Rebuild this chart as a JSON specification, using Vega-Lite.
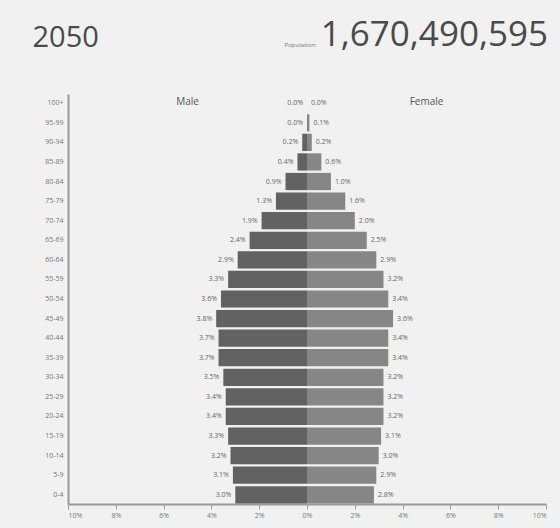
{
  "$schema": "https://vega.github.io/schema/vega-lite/v6.json",
  "autosize": {"type": "none"},
  "width": 478,
  "height": 410,
  "padding": {"left": 68, "top": 94, "right": 14, "bottom": 24},
  "background": "#f1f1f1",
  "title": {
    "text": "1,670,490,595",
    "anchor": "end",
    "frame": "group",
    "fontSize": 35,
    "fontWeight": "normal",
    "font": "Open Sans",
    "color": "#4a4a4a",
    "baseline": "alphabetic",
    "offset": 0,
    "dy": 58,
    "dx": 2
  },
  "config": {
    "view": {"stroke": null},
    "font": "Open Sans"
  },
  "datasets": {
    "pop": [
      {"age": "100+", "sex": "Male", "pct": 0.0}, {"age": "100+", "sex": "Female", "pct": 0.0},
      {"age": "95-99", "sex": "Male", "pct": 0.0}, {"age": "95-99", "sex": "Female", "pct": 0.1},
      {"age": "90-94", "sex": "Male", "pct": 0.2}, {"age": "90-94", "sex": "Female", "pct": 0.2},
      {"age": "85-89", "sex": "Male", "pct": 0.4}, {"age": "85-89", "sex": "Female", "pct": 0.6},
      {"age": "80-84", "sex": "Male", "pct": 0.9}, {"age": "80-84", "sex": "Female", "pct": 1.0},
      {"age": "75-79", "sex": "Male", "pct": 1.3}, {"age": "75-79", "sex": "Female", "pct": 1.6},
      {"age": "70-74", "sex": "Male", "pct": 1.9}, {"age": "70-74", "sex": "Female", "pct": 2.0},
      {"age": "65-69", "sex": "Male", "pct": 2.4}, {"age": "65-69", "sex": "Female", "pct": 2.5},
      {"age": "60-64", "sex": "Male", "pct": 2.9}, {"age": "60-64", "sex": "Female", "pct": 2.9},
      {"age": "55-59", "sex": "Male", "pct": 3.3}, {"age": "55-59", "sex": "Female", "pct": 3.2},
      {"age": "50-54", "sex": "Male", "pct": 3.6}, {"age": "50-54", "sex": "Female", "pct": 3.4},
      {"age": "45-49", "sex": "Male", "pct": 3.8}, {"age": "45-49", "sex": "Female", "pct": 3.6},
      {"age": "40-44", "sex": "Male", "pct": 3.7}, {"age": "40-44", "sex": "Female", "pct": 3.4},
      {"age": "35-39", "sex": "Male", "pct": 3.7}, {"age": "35-39", "sex": "Female", "pct": 3.4},
      {"age": "30-34", "sex": "Male", "pct": 3.5}, {"age": "30-34", "sex": "Female", "pct": 3.2},
      {"age": "25-29", "sex": "Male", "pct": 3.4}, {"age": "25-29", "sex": "Female", "pct": 3.2},
      {"age": "20-24", "sex": "Male", "pct": 3.4}, {"age": "20-24", "sex": "Female", "pct": 3.2},
      {"age": "15-19", "sex": "Male", "pct": 3.3}, {"age": "15-19", "sex": "Female", "pct": 3.1},
      {"age": "10-14", "sex": "Male", "pct": 3.2}, {"age": "10-14", "sex": "Female", "pct": 3.0},
      {"age": "5-9", "sex": "Male", "pct": 3.1}, {"age": "5-9", "sex": "Female", "pct": 2.9},
      {"age": "0-4", "sex": "Male", "pct": 3.0}, {"age": "0-4", "sex": "Female", "pct": 2.8}
    ],
    "heads": [
      {"age": "100+", "pos": -5, "label": "Male"},
      {"age": "100+", "pos": 5, "label": "Female"}
    ]
  },
  "layer": [
    {
      "data": {"name": "pop"},
      "transform": [
        {"calculate": "datum.sex == 'Male' ? -datum.pct : datum.pct", "as": "signed"}
      ],
      "mark": {"type": "bar"},
      "encoding": {
        "y": {
          "field": "age", "type": "nominal",
          "sort": ["100+","95-99","90-94","85-89","80-84","75-79","70-74","65-69","60-64","55-59","50-54","45-49","40-44","35-39","30-34","25-29","20-24","15-19","10-14","5-9","0-4"],
          "scale": {"paddingInner": 0.12, "paddingOuter": 0.03},
          "axis": {
            "title": "2050",
            "titleAngle": 0,
            "titleX": -36,
            "titleY": -48,
            "titleAlign": "left",
            "titleBaseline": "alphabetic",
            "titleFontSize": 29,
            "titleFontWeight": "normal",
            "titleColor": "#4a4a4a",
            "titleFont": "Open Sans",
            "labelFontSize": 7,
            "labelColor": "#777",
            "labelPadding": 5,
            "ticks": false,
            "domainColor": "#999",
            "domainWidth": 2
          }
        },
        "x": {
          "field": "signed", "type": "quantitative",
          "scale": {"domain": [-10, 10], "nice": false},
          "axis": {
            "values": [-10,-8,-6,-4,-2,0,2,4,6,8,10],
            "labelExpr": "abs(datum.value) + '%'",
            "labelFontSize": 7,
            "labelColor": "#777",
            "grid": false,
            "tickSize": 5,
            "tickColor": "#999",
            "domainColor": "#999",
            "domainWidth": 2,
            "title": "Population:",
            "titleFontSize": 6,
            "titleFontWeight": "normal",
            "titleColor": "#777",
            "titleX": 248,
            "titleY": -458,
            "titleAlign": "right",
            "titleBaseline": "alphabetic"
          }
        },
        "color": {
          "field": "sex", "type": "nominal",
          "scale": {"domain": ["Male", "Female"], "range": ["#626262", "#868686"]},
          "legend": null
        }
      }
    },
    {
      "data": {"name": "pop"},
      "transform": [
        {"filter": "datum.sex == 'Male'"},
        {"calculate": "-datum.pct", "as": "signed"},
        {"calculate": "format(datum.pct, '.1f') + '%'", "as": "lbl"}
      ],
      "mark": {"type": "text", "align": "right", "dx": -4, "fontSize": 7, "color": "#666"},
      "encoding": {
        "y": {"field": "age", "type": "nominal", "sort": ["100+","95-99","90-94","85-89","80-84","75-79","70-74","65-69","60-64","55-59","50-54","45-49","40-44","35-39","30-34","25-29","20-24","15-19","10-14","5-9","0-4"]},
        "x": {"field": "signed", "type": "quantitative"},
        "text": {"field": "lbl"}
      }
    },
    {
      "data": {"name": "pop"},
      "transform": [
        {"filter": "datum.sex == 'Female'"},
        {"calculate": "datum.pct", "as": "signed"},
        {"calculate": "format(datum.pct, '.1f') + '%'", "as": "lbl"}
      ],
      "mark": {"type": "text", "align": "left", "dx": 4, "fontSize": 7, "color": "#666"},
      "encoding": {
        "y": {"field": "age", "type": "nominal", "sort": ["100+","95-99","90-94","85-89","80-84","75-79","70-74","65-69","60-64","55-59","50-54","45-49","40-44","35-39","30-34","25-29","20-24","15-19","10-14","5-9","0-4"]},
        "x": {"field": "signed", "type": "quantitative"},
        "text": {"field": "lbl"}
      }
    },
    {
      "data": {"name": "heads"},
      "mark": {"type": "text", "fontSize": 10, "color": "#555", "dy": -1},
      "encoding": {
        "y": {"field": "age", "type": "nominal", "sort": ["100+","95-99","90-94","85-89","80-84","75-79","70-74","65-69","60-64","55-59","50-54","45-49","40-44","35-39","30-34","25-29","20-24","15-19","10-14","5-9","0-4"]},
        "x": {"field": "pos", "type": "quantitative"},
        "text": {"field": "label"}
      }
    }
  ]
}
